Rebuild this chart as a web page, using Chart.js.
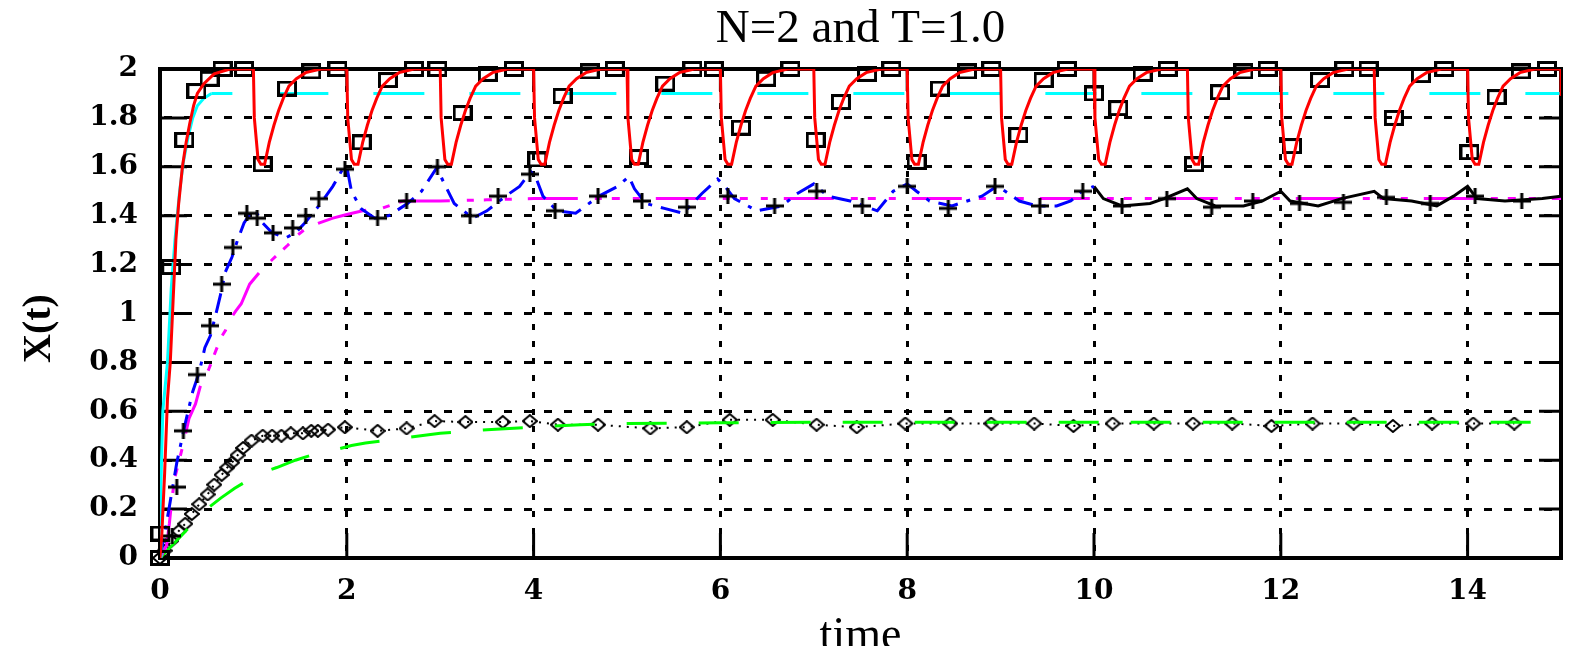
<!DOCTYPE html>
<html>
<head>
<meta charset="utf-8">
<script src="https://cdn.jsdelivr.net/npm/chart.js@4.4.1/dist/chart.umd.min.js"></script>
<style>
  html, body { margin: 0; padding: 0; background: #fff; }
  canvas { display: block; }
</style>
</head>
<body>
<canvas id="chart" width="1574" height="646"></canvas>
<script>
// axis ticks
const xTicks = [0, 2, 4, 6, 8, 10, 12, 14];
const xTickLabels = ["0", "2", "4", "6", "8", "10", "12", "14"];
const yTicks = [0, 0.2, 0.4, 0.6, 0.8, 1, 1.2, 1.4, 1.6, 1.8, 2];
const yTickLabels = ["0", "0.2", "0.4", "0.6", "0.8", "1", "1.2", "1.4", "1.6", "1.8", "2"];

// red solid curve [time, X]
const redCurve = [
  [0, 0], [0.02, 0.1], [0.05, 0.35], [0.08, 0.65], [0.11, 0.8], [0.14, 1.05], [0.17, 1.3], [0.2, 1.45],
  [0.24, 1.6], [0.28, 1.7], [0.32, 1.78], [0.36, 1.85], [0.4, 1.9], [0.47, 1.94], [0.58, 1.98], [0.75, 2],
  [1, 2], [1.01, 1.8], [1.05, 1.63], [1.08, 1.61], [1.12, 1.61], [1.17, 1.7], [1.22, 1.77], [1.27, 1.83], [1.32, 1.88], [1.38, 1.93], [1.46, 1.96], [1.56, 1.985], [1.72, 2],
  [2, 2], [2.01, 1.8], [2.05, 1.63], [2.08, 1.61], [2.12, 1.61], [2.17, 1.7], [2.22, 1.77], [2.27, 1.83], [2.32, 1.88], [2.38, 1.93], [2.46, 1.96], [2.56, 1.985], [2.72, 2],
  [3, 2], [3.01, 1.8], [3.05, 1.63], [3.08, 1.61], [3.12, 1.61], [3.17, 1.7], [3.22, 1.77], [3.27, 1.83], [3.32, 1.88], [3.38, 1.93], [3.46, 1.96], [3.56, 1.985], [3.72, 2],
  [4, 2], [4.01, 1.8], [4.05, 1.63], [4.08, 1.61], [4.12, 1.61], [4.17, 1.7], [4.22, 1.77], [4.27, 1.83], [4.32, 1.88], [4.38, 1.93], [4.46, 1.96], [4.56, 1.985], [4.72, 2],
  [5, 2], [5.01, 1.8], [5.05, 1.63], [5.08, 1.61], [5.12, 1.61], [5.17, 1.7], [5.22, 1.77], [5.27, 1.83], [5.32, 1.88], [5.38, 1.93], [5.46, 1.96], [5.56, 1.985], [5.72, 2],
  [6, 2], [6.01, 1.8], [6.05, 1.63], [6.08, 1.61], [6.12, 1.61], [6.17, 1.7], [6.22, 1.77], [6.27, 1.83], [6.32, 1.88], [6.38, 1.93], [6.46, 1.96], [6.56, 1.985], [6.72, 2],
  [7, 2], [7.01, 1.8], [7.05, 1.63], [7.08, 1.61], [7.12, 1.61], [7.17, 1.7], [7.22, 1.77], [7.27, 1.83], [7.32, 1.88], [7.38, 1.93], [7.46, 1.96], [7.56, 1.985], [7.72, 2],
  [8, 2], [8.01, 1.8], [8.05, 1.63], [8.08, 1.61], [8.12, 1.61], [8.17, 1.7], [8.22, 1.77], [8.27, 1.83], [8.32, 1.88], [8.38, 1.93], [8.46, 1.96], [8.56, 1.985], [8.72, 2],
  [9, 2], [9.01, 1.8], [9.05, 1.63], [9.08, 1.61], [9.12, 1.61], [9.17, 1.7], [9.22, 1.77], [9.27, 1.83], [9.32, 1.88], [9.38, 1.93], [9.46, 1.96], [9.56, 1.985], [9.72, 2],
  [10, 2], [10.01, 1.8], [10.05, 1.63], [10.08, 1.61], [10.12, 1.61], [10.17, 1.7], [10.22, 1.77], [10.27, 1.83], [10.32, 1.88], [10.38, 1.93], [10.46, 1.96], [10.56, 1.985], [10.72, 2],
  [11, 2], [11.01, 1.8], [11.05, 1.63], [11.08, 1.61], [11.12, 1.61], [11.17, 1.7], [11.22, 1.77], [11.27, 1.83], [11.32, 1.88], [11.38, 1.93], [11.46, 1.96], [11.56, 1.985], [11.72, 2],
  [12, 2], [12.01, 1.8], [12.05, 1.63], [12.08, 1.61], [12.12, 1.61], [12.17, 1.7], [12.22, 1.77], [12.27, 1.83], [12.32, 1.88], [12.38, 1.93], [12.46, 1.96], [12.56, 1.985], [12.72, 2],
  [13, 2], [13.01, 1.8], [13.05, 1.63], [13.08, 1.61], [13.12, 1.61], [13.17, 1.7], [13.22, 1.77], [13.27, 1.83], [13.32, 1.88], [13.38, 1.93], [13.46, 1.96], [13.56, 1.985], [13.72, 2],
  [14, 2], [14.01, 1.8], [14.05, 1.63], [14.08, 1.61], [14.12, 1.61], [14.17, 1.7], [14.22, 1.77], [14.27, 1.83], [14.32, 1.88], [14.38, 1.93], [14.46, 1.96], [14.56, 1.985], [14.72, 2],
  [15, 2], [15, 1.89]
];

// square markers
const squarePoints = [
  [0, 0], [0.005, 0.1], [0.12, 1.19], [0.26, 1.71], [0.39, 1.91], [0.53, 1.96], [0.67, 2], [0.9, 2],
  [1.1, 1.61], [1.36, 1.92], [1.62, 1.99], [1.9, 2], [2.16, 1.7], [2.44, 1.955], [2.72, 2], [2.97, 2],
  [3.24, 1.82], [3.51, 1.98], [3.79, 2], [4.04, 1.63], [4.31, 1.89], [4.6, 1.99], [4.87, 2], [5.13, 1.64],
  [5.41, 1.94], [5.7, 2], [5.93, 2], [6.22, 1.76], [6.49, 1.96], [6.75, 2], [7.02, 1.71], [7.29, 1.865],
  [7.57, 1.98], [7.83, 2], [8.1, 1.62], [8.35, 1.92], [8.64, 1.99], [8.9, 2], [9.19, 1.73], [9.46, 1.955],
  [9.71, 2], [10, 1.9], [10.26, 1.84], [10.52, 1.98], [10.79, 2], [11.07, 1.61], [11.35, 1.905], [11.6, 1.99],
  [11.86, 2], [12.12, 1.685], [12.42, 1.955], [12.68, 2], [12.94, 2], [13.21, 1.8], [13.5, 1.975], [13.75, 2],
  [14.02, 1.66], [14.31, 1.885], [14.57, 1.99], [14.85, 2]
];

// cyan dashed curve
const cyanCurve = [
  [0, 0], [0.01, 0.3], [0.03, 0.6], [0.08, 0.8], [0.12, 1.1], [0.16, 1.3], [0.21, 1.5], [0.25, 1.62],
  [0.3, 1.72], [0.35, 1.8], [0.4, 1.85], [0.47, 1.88], [0.55, 1.9], [15, 1.9]
];

// plus markers
const plusPoints = [
  [0.13, 0.09], [0.18, 0.29], [0.25, 0.52], [0.4, 0.75], [0.535, 0.95], [0.66, 1.12], [0.78, 1.27], [0.93, 1.41],
  [1.04, 1.39], [1.21, 1.33], [1.42, 1.35], [1.56, 1.4], [1.7, 1.47], [1.98, 1.59], [2.33, 1.39], [2.64, 1.46],
  [2.97, 1.6], [3.32, 1.4], [3.62, 1.48], [3.96, 1.57], [4.23, 1.42], [4.69, 1.48], [5.16, 1.46], [5.64, 1.435],
  [6.08, 1.48], [6.58, 1.44], [7.03, 1.5], [7.52, 1.44], [8, 1.52], [8.44, 1.43], [8.94, 1.52], [9.42, 1.44],
  [9.88, 1.5], [10.3, 1.44], [10.78, 1.47], [11.26, 1.435], [11.7, 1.46], [12.2, 1.45], [12.67, 1.455], [13.13, 1.475],
  [13.6, 1.45], [14.08, 1.48], [14.58, 1.46]
];

// blue dash-dot curve (to t = 10)
const blueCurve = [
  [0, 0], [0.05, 0.1], [0.1, 0.21], [0.18, 0.39], [0.27, 0.55], [0.35, 0.68], [0.42, 0.76], [0.48, 0.86],
  [0.54, 0.91], [0.6, 1], [0.65, 1.08], [0.7, 1.17], [0.77, 1.23], [0.83, 1.3], [0.9, 1.37], [0.97, 1.41],
  [1.02, 1.42], [1.1, 1.37], [1.2, 1.33], [1.35, 1.31], [1.45, 1.33], [1.55, 1.37], [1.7, 1.44], [1.85, 1.52],
  [1.97, 1.6], [2, 1.6], [2.05, 1.5], [2.15, 1.43], [2.3, 1.39], [2.45, 1.4], [2.65, 1.45], [2.8, 1.5],
  [2.97, 1.6], [3.02, 1.55], [3.15, 1.45], [3.35, 1.39], [3.5, 1.42], [3.7, 1.48], [3.85, 1.52], [3.97, 1.58],
  [4.02, 1.56], [4.1, 1.48], [4.25, 1.42], [4.45, 1.41], [4.7, 1.48], [4.9, 1.52], [5.02, 1.56], [5.08, 1.51],
  [5.2, 1.45], [5.4, 1.43], [5.6, 1.41], [5.8, 1.49], [5.97, 1.55], [6.05, 1.52], [6.15, 1.47], [6.39, 1.42],
  [6.66, 1.44], [6.82, 1.49], [7, 1.53], [7.15, 1.48], [7.39, 1.46], [7.68, 1.42], [7.85, 1.5], [8, 1.53],
  [8.1, 1.5], [8.24, 1.46], [8.48, 1.44], [8.8, 1.48], [8.96, 1.52], [9.05, 1.5], [9.2, 1.46], [9.39, 1.44],
  [9.6, 1.44], [9.75, 1.46], [9.87, 1.5], [10, 1.52]
];

// black solid curve (from t = 10)
const blackCurve = [
  [10, 1.52], [10.1, 1.47], [10.3, 1.44], [10.6, 1.45], [10.75, 1.47], [11, 1.51], [11.1, 1.47], [11.3, 1.44],
  [11.6, 1.44], [11.8, 1.46], [12, 1.5], [12.1, 1.46], [12.4, 1.44], [12.65, 1.47], [13, 1.5], [13.1, 1.47],
  [13.4, 1.46], [13.67, 1.44], [13.85, 1.48], [14, 1.52], [14.1, 1.47], [14.4, 1.46], [14.8, 1.47], [15, 1.48]
];

// magenta dash-dot curve
const magentaCurve = [
  [0, 0], [0.07, 0.05], [0.1, 0.14], [0.13, 0.25], [0.16, 0.33], [0.2, 0.39], [0.27, 0.5], [0.31, 0.57],
  [0.38, 0.63], [0.43, 0.7], [0.52, 0.77], [0.57, 0.82], [0.65, 0.9], [0.7, 0.93], [0.74, 0.97], [0.81, 1.01],
  [0.87, 1.04], [0.96, 1.12], [1.07, 1.17], [1.2, 1.22], [1.37, 1.28], [1.47, 1.32], [1.57, 1.35], [1.7, 1.37],
  [1.85, 1.39], [2, 1.405], [2.17, 1.42], [2.37, 1.43], [2.6, 1.46], [3, 1.46], [3.5, 1.465], [4, 1.47], [15, 1.47]
];

// green dashed curve
const greenCurve = [
  [0, 0], [0.1, 0.04], [0.2, 0.08], [0.35, 0.14], [0.5, 0.2], [0.65, 0.245], [0.8, 0.285], [0.95, 0.32],
  [1.1, 0.35], [1.25, 0.37], [1.45, 0.4], [1.7, 0.43], [1.9, 0.445], [2.05, 0.46], [2.2, 0.47], [2.6, 0.49],
  [3, 0.51], [3.5, 0.525], [4, 0.535], [4.5, 0.545], [5, 0.55], [6, 0.553], [7, 0.555], [15, 0.555]
];

// diamond markers on the dotted black line
const diamondPoints = [
  [0, 0], [0.05, 0.03], [0.12, 0.07], [0.2, 0.11], [0.27, 0.14], [0.34, 0.18], [0.42, 0.22], [0.51, 0.26],
  [0.58, 0.3], [0.66, 0.34], [0.72, 0.37], [0.77, 0.39], [0.83, 0.42], [0.89, 0.45], [0.98, 0.48], [1.1, 0.5],
  [1.2, 0.5], [1.3, 0.5], [1.4, 0.51], [1.53, 0.51], [1.62, 0.52], [1.69, 0.52], [1.8, 0.525], [1.98, 0.535],
  [2.33, 0.52], [2.64, 0.53], [2.94, 0.56], [3.27, 0.556], [3.67, 0.556], [3.96, 0.56], [4.26, 0.545], [4.69, 0.545],
  [5.25, 0.53], [5.64, 0.535], [6.1, 0.565], [6.56, 0.565], [7.03, 0.545], [7.46, 0.535], [7.98, 0.55], [8.46, 0.55],
  [8.9, 0.55], [9.36, 0.55], [9.78, 0.54], [10.2, 0.55], [10.64, 0.55], [11.06, 0.55], [11.48, 0.55], [11.9, 0.54],
  [12.34, 0.55], [12.78, 0.55], [13.2, 0.54], [13.62, 0.55], [14.06, 0.55], [14.5, 0.55]
];

const toXY = pairs => pairs.map(([x, y]) => ({ x, y }));

// small canvases used as point glyphs
function marker(w, h, draw) {
  const c = document.createElement("canvas");
  c.width = w;
  c.height = h;
  const g = c.getContext("2d");
  g.strokeStyle = "#000";
  draw(g);
  return c;
}
const squareMark = marker(20, 16, g => { g.lineWidth = 3; g.strokeRect(1.5, 1.5, 17, 13); });
const plusMark = marker(18, 16, g => {
  g.lineWidth = 3;
  g.beginPath();
  g.moveTo(0, 8); g.lineTo(18, 8);
  g.moveTo(9, 0); g.lineTo(9, 16);
  g.stroke();
});
const diamondMark = marker(16, 14, g => {
  g.lineWidth = 2;
  g.beginPath();
  g.moveTo(8, 1); g.lineTo(15, 7); g.lineTo(8, 13); g.lineTo(1, 7);
  g.closePath();
  g.stroke();
});

// frame and inward ticks like gnuplot
const frame = {
  id: "frame",
  beforeDatasetsDraw(chart) {
    const { ctx, chartArea: a, scales: { x, y } } = chart;
    ctx.save();
    ctx.strokeStyle = "#000";
    ctx.lineWidth = 3;
    ctx.beginPath();
    yTicks.forEach(v => {
      const py = y.getPixelForValue(v);
      ctx.moveTo(a.left, py); ctx.lineTo(a.left + 27, py);
      ctx.moveTo(a.right, py); ctx.lineTo(a.right - 22, py);
    });
    xTicks.forEach(t => {
      const px = x.getPixelForValue(t);
      ctx.moveTo(px, a.bottom); ctx.lineTo(px, a.bottom - 25);
      ctx.moveTo(px, a.top); ctx.lineTo(px, a.top + 22);
    });
    ctx.stroke();
    ctx.lineWidth = 4;
    ctx.strokeRect(a.left, a.top, a.right - a.left, a.bottom - a.top);
    ctx.restore();
  }
};

const tickFont = { family: "DejaVu Serif", size: 28, weight: "bold" };
const magentaDash = [50, 17, 7, 10, 8, 13, 7, 16];

new Chart(document.getElementById("chart"), {
  type: "line",
  data: {
    datasets: [
      {
        data: toXY(redCurve),
        borderColor: "#ff0000",
        borderWidth: 3,
        pointRadius: 0,
        fill: false,
      },
      {
        data: toXY(squarePoints),
        showLine: false,
        pointStyle: squareMark,
        pointRadius: 8,
        clip: false,
      },
      {
        data: toXY(cyanCurve),
        borderColor: "#00ffff",
        borderWidth: 3,
        pointRadius: 0,
        fill: false,
        segment: {
          borderDash: c => (c.p0.parsed.x >= 0.55 ? [51, 45] : []),
          borderDashOffset: c => (c.p0.parsed.x >= 0.55 ? 30 : 0),
        },
      },
      {
        data: toXY(plusPoints),
        showLine: false,
        pointStyle: plusMark,
        pointRadius: 8,
        clip: false,
      },
      {
        data: toXY(blueCurve),
        borderColor: "#0000ff",
        borderWidth: 3,
        borderDash: [20, 9, 4, 9],
        pointRadius: 0,
        fill: false,
      },
      {
        data: toXY(blackCurve),
        borderColor: "#000",
        borderWidth: 3,
        pointRadius: 0,
        fill: false,
      },
      {
        data: toXY(magentaCurve),
        borderColor: "#ff00ff",
        borderWidth: 3,
        borderDash: magentaDash,
        pointRadius: 0,
        fill: false,
        segment: {
          borderDashOffset: c => (c.p0.parsed.x >= 2.6 ? 3 : 0),
        },
      },
      {
        data: toXY(greenCurve),
        borderColor: "#00ff00",
        borderWidth: 3,
        borderDash: [40, 32],
        pointRadius: 0,
        fill: false,
      },
      {
        data: toXY(diamondPoints),
        borderColor: "#000",
        borderWidth: 2,
        borderDash: [2, 6],
        pointStyle: diamondMark,
        pointRadius: 7,
        fill: false,
        clip: false,
      },
    ],
  },
  options: {
    responsive: false,
    animation: false,
    devicePixelRatio: 1,
    events: [],
    layout: { padding: { left: 0, right: 13, top: 0, bottom: 0 } },
    plugins: {
      legend: { display: false },
      tooltip: { enabled: false },
      title: {
        display: true,
        text: "N=2 and T=1.0",
        fullSize: false,
        color: "#000",
        font: { family: "Liberation Serif", size: 47, weight: "normal", lineHeight: 1 },
        padding: { top: 6, bottom: 16 },
      },
    },
    scales: {
      x: {
        type: "linear",
        min: 0,
        max: 15,
        afterBuildTicks: s => { s.ticks = xTicks.map(v => ({ value: v })); },
        afterFit: s => { s.height = 88; },
        grid: { color: "#000", lineWidth: 3, drawTicks: false },
        border: { display: false, dash: [6, 11] },
        ticks: {
          color: "#000",
          font: tickFont,
          padding: 17,
          maxRotation: 0,
          autoSkip: false,
          callback: (v, i) => xTickLabels[i],
        },
        title: {
          display: true,
          text: "time",
          color: "#000",
          font: { family: "Liberation Serif", size: 46, lineHeight: 1 },
          padding: { top: 0, bottom: -14 },
        },
      },
      y: {
        min: 0,
        max: 2,
        afterBuildTicks: s => { s.ticks = yTicks.map(v => ({ value: v })); },
        afterFit: s => { s.width = 160; },
        grid: { color: "#000", lineWidth: 3, drawTicks: false },
        border: { display: false, dash: [8, 12], dashOffset: 16 },
        ticks: {
          color: "#000",
          font: tickFont,
          padding: 22,
          autoSkip: false,
          callback: (v, i) => yTickLabels[i],
        },
        title: {
          display: true,
          text: "X(t)   ",
          color: "#000",
          font: { family: "Liberation Serif", size: 40, weight: "bold", lineHeight: 1 },
          padding: { top: 20, bottom: 0 },
        },
      },
    },
  },
  plugins: [frame],
});
</script>
</body>
</html>
